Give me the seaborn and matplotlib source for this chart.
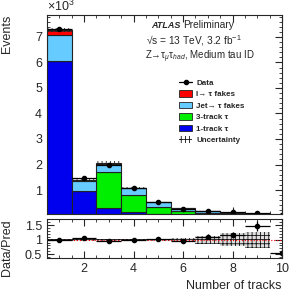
import numpy as np
import pandas as pd
import matplotlib
matplotlib.use("Agg")
import matplotlib.pyplot as plt
import seaborn as sns
from matplotlib.patches import Patch
from matplotlib.lines import Line2D

# ---- data (events in units of 10^3) ----
ntracks = [1, 2, 3, 4, 5, 6, 7, 8, 9, 10]
one_track = [6.06, 0.96, 0.29, 0.14, 0.05, 0.02, 0.010, 0.005, 0.003, 0.002]
three_track = [0.0, 0.0, 1.40, 0.65, 0.27, 0.14, 0.080, 0.050, 0.020, 0.010]
jet_fakes = [1.01, 0.40, 0.34, 0.29, 0.20, 0.12, 0.070, 0.050, 0.030, 0.020]
lep_fakes = [0.20, 0.03, 0.03, 0.01, 0.01, 0.005, 0.003, 0.002, 0.001, 0.001]
data = [7.30, 1.46, 1.98, 1.09, 0.54, 0.27, 0.18, 0.125, 0.08, 0.018]
data_err = [0.085, 0.038, 0.045, 0.033, 0.023, 0.016, 0.013, 0.011, 0.009, 0.004]
rel_unc = [0.01, 0.03, 0.03, 0.02, 0.03, 0.06, 0.14, 0.22, 0.27, 0.0]

proc_names = ["l→ τ fakes", "Jet→ τ fakes", "3-track τ", "1-track τ"]
proc_colors = ["#ff0000", "#66ccff", "#00ee00", "#0000ee"]

sns.set_theme(style="ticks")
plt.rcParams["font.family"] = ["Liberation Sans", "DejaVu Sans"]
plt.rcParams["hatch.linewidth"] = 0.6
plt.rcParams["mathtext.fontset"] = "custom"
plt.rcParams["mathtext.rm"] = "Liberation Sans"
plt.rcParams["mathtext.it"] = "Liberation Sans:italic"

rows = []
for name, vals in zip(proc_names, [lep_fakes, jet_fakes, three_track, one_track]):
    for x, v in zip(ntracks, vals):
        rows.append({"ntrk": x, "events": v, "process": name})
df = pd.DataFrame(rows)

bin_edges = [0.5 + i for i in range(11)]
W, H = 297, 291
fig = plt.figure(figsize=(W / 100, H / 100), dpi=100)
ax = fig.add_axes([47 / W, 1 - 214 / H, 235 / W, 199 / H])
rax = fig.add_axes([47 / W, 1 - 258 / H, 235 / W, 39 / H])

sns.histplot(data=df, x="ntrk", weights="events", hue="process", hue_order=proc_names,
             multiple="stack", bins=bin_edges, palette=dict(zip(proc_names, proc_colors)),
             alpha=1.0, edgecolor="#222222", linewidth=0.8, legend=False, ax=ax)

total = np.array(one_track) + np.array(three_track) + np.array(jet_fakes) + np.array(lep_fakes)
unc_abs = total * np.array(rel_unc)
ax.bar(ntracks, 2 * unc_abs, bottom=total - unc_abs, width=1.0, facecolor="none",
       edgecolor="#222222", hatch="++++", linewidth=0)
ax.errorbar(ntracks, data, yerr=data_err, xerr=0.5, fmt="o", color="black", ms=3,
            elinewidth=0.9, capsize=0)

ratio = np.array(data) / total
ratio_err = np.array(data_err) / total
rax.bar(ntracks, 2 * np.array(rel_unc), bottom=1 - np.array(rel_unc), width=1.0,
        facecolor="#dddddd", edgecolor="#111111", hatch="++++", linewidth=0)
rax.axhline(1.0, color="red", ls=":", lw=0.8)
rax.errorbar(ntracks, ratio, yerr=ratio_err, xerr=0.5, fmt="o", color="black", ms=3,
             elinewidth=0.9, capsize=0)

for a in (ax, rax):
    a.set_xlim(0.5, 10)
    a.set_xticks([2, 4, 6, 8, 10])
    a.set_xticks(np.arange(0.5, 10.01, 0.5), minor=True)
    a.tick_params(which="both", direction="in", top=True, right=True, labelsize=9)
    a.tick_params(which="major", length=5, width=0.8)
    a.tick_params(which="minor", length=2.5, width=0.6)
    for s in a.spines.values():
        s.set_linewidth(0.8)

ax.set_ylim(0.06, 7.86)
ax.set_yticks([1, 2, 3, 4, 5, 6, 7])
ax.set_yticks(np.arange(0.2, 7.86, 0.2), minor=True)
ax.set_xticklabels([])
ax.set_xlabel("")
ax.set_ylabel("Events", fontsize=9, loc="top")
ax.text(0.0, 1.005, "×10$^3$", transform=ax.transAxes, fontsize=9, ha="left", va="bottom")

rax.set_ylim(0.37, 1.71)
rax.set_yticks([0.5, 1.0, 1.5])
rax.set_yticklabels(["0.5", "1", "1.5"])
rax.set_yticks(np.arange(0.4, 1.71, 0.1), minor=True)
rax.set_ylabel("Data/Pred", fontsize=9, loc="top")
rax.set_xlabel("Number of tracks", fontsize=9, loc="right")

ax.yaxis.set_label_coords(-0.145, 1.0)
rax.yaxis.set_label_coords(-0.145, 1.0)

ax.text(0.443, 0.948, "ATLAS", transform=ax.transAxes, fontsize=6.5, fontweight="bold",
        fontstyle="italic", ha="left", va="center")
ax.text(0.578, 0.948, "Preliminary", transform=ax.transAxes, fontsize=7.3, ha="left", va="center")
ax.text(0.42, 0.87, "√s = 13 TeV, 3.2 fb$^{-1}$", transform=ax.transAxes, fontsize=7.3,
        ha="left", va="center")
ax.text(0.415, 0.79, "Z→τ$_{\\mu}$τ$_{had}$, Medium tau ID", transform=ax.transAxes,
        fontsize=7, ha="left", va="center")

handles = [Line2D([0], [0], color="black", marker="o", ms=3, lw=0.9)]
handles += [Patch(facecolor=c, edgecolor="#222222", linewidth=0.6) for c in proc_colors]
handles += [Patch(facecolor="white", edgecolor="#111111", hatch="++++", linewidth=0)]
labels = ["Data"] + proc_names + ["Uncertainty"]
leg = ax.legend(handles, labels, loc="upper left", bbox_to_anchor=(0.545, 0.7), frameon=False,
                fontsize=5.8, handlelength=1.6, handleheight=0.9, labelspacing=0.42,
                borderpad=0, handletextpad=0.5)
for t in leg.get_texts():
    t.set_fontweight("bold")

fig.savefig("out.png", dpi=100)
